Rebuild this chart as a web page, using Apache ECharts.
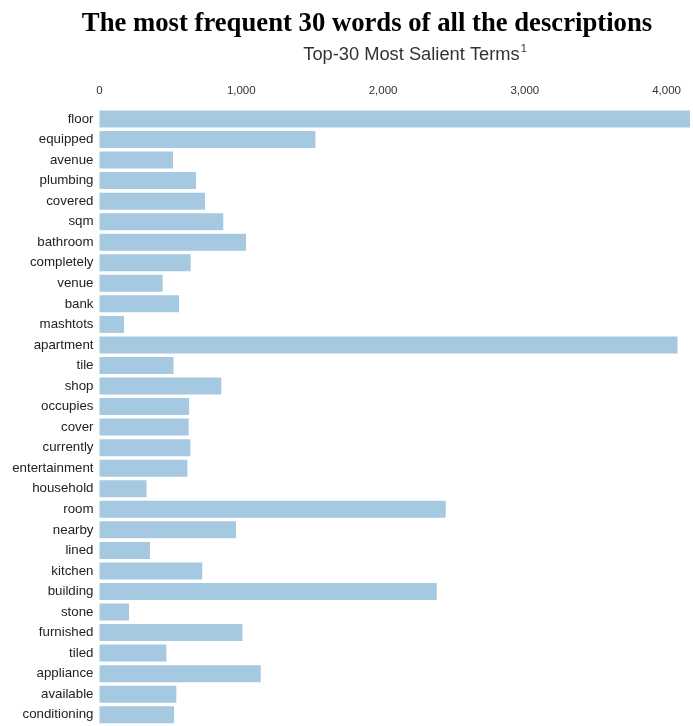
<!DOCTYPE html>
<html>
<head>
<meta charset="utf-8">
<script src="https://cdn.jsdelivr.net/npm/echarts@6/dist/echarts.min.js"></script>
<style>
  html, body { margin: 0; padding: 0; background: #fff; }
  #main { width: 693px; height: 726px; }
</style>
</head>
<body>
<div id="main"></div>
<script>
// terms, top to bottom
const terms = ['floor', 'equipped', 'avenue', 'plumbing', 'covered', 'sqm', 'bathroom', 'completely',
    'venue', 'bank', 'mashtots', 'apartment', 'tile', 'shop', 'occupies', 'cover', 'currently',
    'entertainment', 'household', 'room', 'nearby', 'lined', 'kitchen', 'building', 'stone',
    'furnished', 'tiled', 'appliance', 'available', 'conditioning']
// overall term frequency (floor runs off the right edge)
const counts = [4250, 1523, 519, 681, 744, 873, 1034, 643,
    445, 561, 173, 4077, 522, 859, 632, 629, 641,
    620, 332, 2442, 963, 356, 725, 2379, 208,
    1008, 472, 1137, 542, 526]
const tickStep = 1000

const chart = echarts.init(document.getElementById('main'))

chart.setOption({
    animation: false,
    title: [
        {
            text: 'The most frequent 30 words of all the descriptions',
            left: 362,
            top: 6,
            textAlign: 'center',
            textStyle: {
                fontFamily: 'Liberation Serif',
                fontWeight: 'bold',
                fontSize: 26.7,
                color: '#000'
            }
        },
        {
            text: '{t|Top-30 Most Salient Terms}{s|1}',
            left: 410,
            top: 38,
            textAlign: 'center',
            textStyle: {
                fontWeight: 'normal',
                rich: {
                    t: { fontFamily: 'Liberation Sans', fontWeight: 'normal', fontSize: 18.3, lineHeight: 24, color: '#333' },
                    s: { fontFamily: 'Liberation Sans', fontWeight: 'normal', fontSize: 11, lineHeight: 13, color: '#333', verticalAlign: 'top', padding: [0, 0, 0, 1] }
                }
            }
        }
    ],
    grid: {
        left: 99.5,
        right: 0,
        top: 108.7,
        bottom: 1,
        containLabel: false
    },
    xAxis: {
        type: 'value',
        position: 'top',
        min: 0,
        max: 4165,
        interval: tickStep,
        axisLine: { show: false },
        axisTick: { show: false },
        splitLine: { show: false },
        axisLabel: {
            margin: 12,
            fontFamily: 'Liberation Sans',
            fontSize: 11.5,
            color: '#333',
            formatter: v => (v % tickStep === 0 ? v.toLocaleString('en-US') : '')
        }
    },
    yAxis: {
        type: 'category',
        data: terms,
        inverse: true,
        axisLine: { show: false },
        axisTick: { show: false },
        axisLabel: {
            margin: 6,
            fontFamily: 'Liberation Sans',
            fontSize: 13.3,
            color: '#222'
        }
    },
    series: [
        {
            type: 'bar',
            data: counts,
            barWidth: 17,
            clip: true,
            itemStyle: { color: '#a5c9e1' }
        }
    ]
})
</script>
</body>
</html>
